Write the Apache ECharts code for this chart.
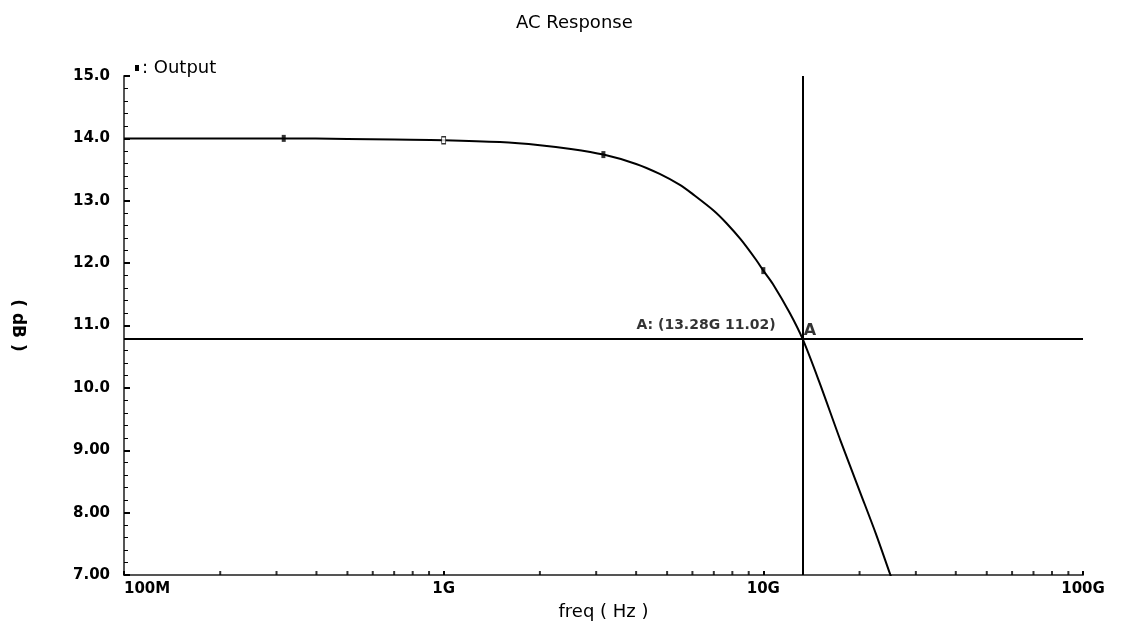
<!DOCTYPE html>
<html>
<head>
<meta charset="utf-8">
<script src="https://cdn.jsdelivr.net/npm/echarts@6/dist/echarts.min.js"></script>
<style>
  html, body { margin: 0; padding: 0; background: #fff; }
  #main { width: 1127px; height: 626px; }
</style>
</head>
<body>
<div id="main"></div>
<script>
// AC response curve (Hz, dB)
var freqs = [1e8, 2e8, 3.16e8, 5e8, 7e8, 1e9, 1.5e9, 2e9, 2.5e9, 3.16e9, 4e9, 4.74e9, 5.5e9, 6e9, 7e9, 7.67e9,
             8.5e9, 9.5e9, 1e10, 1.07e10, 1.21e10, 1.328e10, 1.5e10, 1.736e10, 2e10, 2.25e10, 2.49e10, 2.6e10];
var outputDb = [14.00, 14.00, 14.00, 13.99, 13.98, 13.97, 13.94, 13.89, 13.83, 13.74, 13.59, 13.43, 13.25, 13.11, 12.84, 12.64,
                12.38, 12.05, 11.88, 11.67, 11.20, 10.78, 10.08, 9.18, 8.35, 7.66, 7.02, 6.75];

// square markers sitting on the curve
var markerFreqs = [3.16e8, 1e9, 3.16e9, 1e10];
var markerDb = [14.00, 13.97, 13.74, 11.88];

// cursor A
var cursorFreq = 1.328e10;
var cursorDb = 10.78;
var cursorText = 'A: (13.28G 11.02)';

// x tick labels per decade, and the small log ticks between them
var xTickLabels = ['100M', '1G', '10G', '100G'];
var minorTickFreqs = [2e8, 3e8, 4e8, 5e8, 6e8, 7e8, 8e8, 9e8,
                      2e9, 3e9, 4e9, 5e9, 6e9, 7e9, 8e9, 9e9,
                      2e10, 3e10, 4e10, 5e10, 6e10, 7e10, 8e10, 9e10];

var yMin = 7, yMax = 15;

var chart = echarts.init(document.getElementById('main'));

var lineData = freqs.map(function (f, i) { return [f, outputDb[i]]; });
var markerData = markerFreqs.map(function (f, i) {
  var item = { value: [f, markerDb[i]] };
  if (f === 1e9) {
    item.itemStyle = { color: '#fff', borderColor: '#000', borderWidth: 1 };
  }
  return item;
});
var minorData = minorTickFreqs.map(function (f) { return [f, yMin]; });

var font = 'DejaVu Sans';

var option = {
  backgroundColor: '#fff',
  animation: false,
  title: {
    text: 'AC Response',
    left: 511,
    top: 9,
    textStyle: { fontFamily: font, fontSize: 18, fontWeight: 'normal', color: '#000' }
  },
  legend: {
    data: ['Output'],
    left: 130,
    top: 54,
    icon: 'rect',
    itemWidth: 4,
    itemHeight: 6,
    itemGap: 4,
    formatter: function () { return ': Output'; },
    textStyle: { fontFamily: font, fontSize: 18, color: '#000', padding: [0, 0, 0, -2] }
  },
  grid: { left: 124, right: 44, top: 76, bottom: 45, containLabel: false },
  xAxis: {
    type: 'log',
    logBase: 10,
    min: 1e8,
    max: 1e11,
    name: 'freq ( Hz )',
    nameLocation: 'middle',
    nameGap: 28,
    nameTextStyle: { fontFamily: font, fontSize: 18, color: '#000' },
    axisLine: { lineStyle: { color: '#555', width: 2 } },
    axisTick: { inside: true, length: 4, lineStyle: { color: '#000', width: 2 } },
    splitLine: { show: false },
    axisLabel: {
      margin: 7,
      fontFamily: font,
      fontSize: 15,
      fontWeight: 'bold',
      color: '#000',
      alignMinLabel: 'left',
      formatter: function (v) {
        var k = Math.round(Math.log10(v)) - 8;
        return xTickLabels[k] || '';
      }
    }
  },
  yAxis: {
    type: 'value',
    min: yMin,
    max: yMax,
    interval: 1,
    name: '( dB )',
    nameLocation: 'middle',
    nameGap: 98,
    nameRotate: -90,
    nameTextStyle: { fontFamily: font, fontSize: 17, fontWeight: 'bold', color: '#000' },
    axisLine: { show: true, lineStyle: { color: '#555', width: 2 } },
    axisTick: { show: true, inside: true, length: 6, lineStyle: { color: '#000', width: 2 } },
    minorTick: { show: true, splitNumber: 5, length: 4, lineStyle: { color: '#000', width: 1 } },
    splitLine: { show: false },
    axisLabel: {
      margin: 14,
      fontFamily: font,
      fontSize: 15,
      fontWeight: 'bold',
      color: '#000',
      formatter: function (v) { return v >= 10 ? v.toFixed(1) : v.toFixed(2); }
    }
  },
  series: [
    {
      name: 'Output',
      type: 'line',
      data: lineData,
      smooth: 0.3,
      showSymbol: false,
      clip: true,
      itemStyle: { color: '#000' },
      lineStyle: { color: '#000', width: 2 },
      markLine: {
        silent: true,
        symbol: ['none', 'none'],
        label: { show: false },
        lineStyle: { color: '#000', width: 2, type: 'solid' },
        data: [{ yAxis: cursorDb }, { xAxis: cursorFreq }]
      }
    },
    {
      name: 'markers',
      type: 'scatter',
      data: markerData,
      symbol: 'rect',
      symbolSize: [4, 7],
      itemStyle: { color: '#000' },
      z: 5
    },
    {
      name: 'cursor',
      type: 'scatter',
      symbolSize: 0,
      data: [
        {
          value: [cursorFreq, cursorDb],
          label: {
            show: true, position: 'left', distance: 27, offset: [0, -14],
            formatter: cursorText,
            fontFamily: font, fontSize: 14, fontWeight: 'bold', color: '#000'
          }
        },
        {
          value: [cursorFreq, cursorDb],
          label: {
            show: true, position: 'right', distance: 1, offset: [0, -8],
            formatter: 'A',
            fontFamily: font, fontSize: 16, fontWeight: 'bold', color: '#000'
          }
        }
      ],
      z: 6
    },
    {
      name: 'minorTicks',
      type: 'scatter',
      data: minorData,
      symbol: 'rect',
      symbolSize: [2, 4],
      symbolOffset: [0, -2],
      clip: false,
      silent: true,
      itemStyle: { color: '#000' }
    }
  ]
};

chart.setOption(option);
</script>
</body>
</html>
